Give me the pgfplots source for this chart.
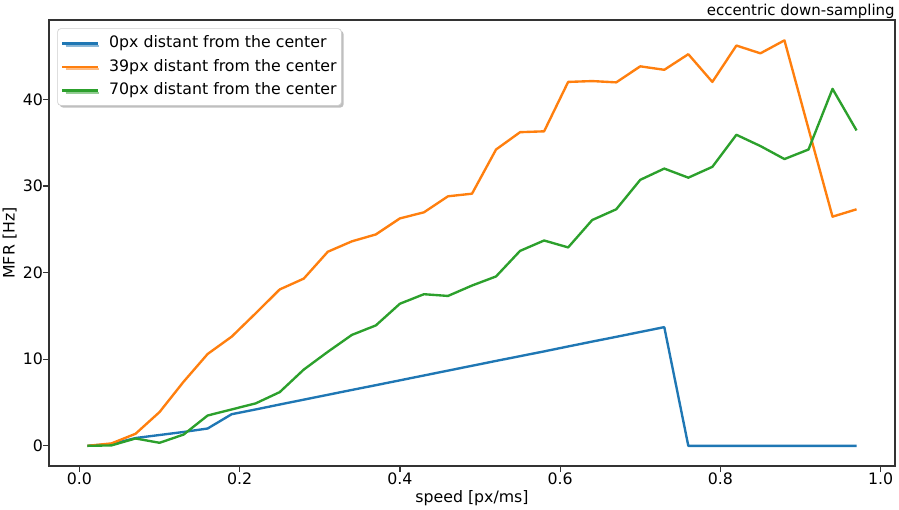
\documentclass[border=0pt]{standalone}
\usepackage{fontspec}
\setmainfont{DejaVu Sans}
\usepackage{pgfplots}
\pgfplotsset{compat=1.18}
\usetikzlibrary{shadows}
\definecolor{tabblue}{HTML}{1F77B4}
\definecolor{taborange}{HTML}{FF7F0E}
\definecolor{tabgreen}{HTML}{2CA02C}

\pgfplotstableread{
x y
0.01 0
0.04 0.2
0.07 0.9
0.10 1.25
0.13 1.6
0.16 2.0
0.19 3.65
0.22 4.2
0.25 4.77
0.28 5.33
0.31 5.89
0.34 6.45
0.37 7.0
0.40 7.56
0.43 8.12
0.46 8.68
0.49 9.24
0.52 9.8
0.55 10.35
0.58 10.9
0.61 11.47
0.64 12.03
0.67 12.58
0.70 13.14
0.73 13.7
0.76 0
0.79 0
0.82 0
0.85 0
0.88 0
0.91 0
0.94 0
0.97 0
}\tblblue

\pgfplotstableread{
x y
0.01 0
0.04 0.28
0.07 1.39
0.10 3.9
0.13 7.4
0.16 10.6
0.19 12.6
0.22 15.3
0.25 18.05
0.28 19.3
0.31 22.4
0.34 23.6
0.37 24.4
0.40 26.25
0.43 26.95
0.46 28.8
0.49 29.1
0.52 34.2
0.55 36.2
0.58 36.3
0.61 42.0
0.64 42.1
0.67 41.95
0.70 43.8
0.73 43.4
0.76 45.2
0.79 42.0
0.82 46.2
0.85 45.3
0.88 46.8
0.91 36.6
0.94 26.45
0.97 27.3
}\tblorange

\pgfplotstableread{
x y
0.01 0
0.04 0.05
0.07 0.85
0.10 0.35
0.13 1.3
0.16 3.5
0.19 4.2
0.22 4.9
0.25 6.2
0.28 8.8
0.31 10.85
0.34 12.8
0.37 13.9
0.40 16.4
0.43 17.5
0.46 17.3
0.49 18.5
0.52 19.55
0.55 22.5
0.58 23.7
0.61 22.9
0.64 26.06
0.67 27.3
0.70 30.7
0.73 32.0
0.76 30.95
0.79 32.2
0.82 35.9
0.85 34.6
0.88 33.1
0.91 34.2
0.94 41.2
0.97 36.4
}\tblgreen

\begin{document}
\begin{tikzpicture}[font=\fontsize{10bp}{12bp}\selectfont]
\useasboundingbox (-31.07bp,-27.27bp) rectangle (538.93bp,295.53bp);
\begin{axis}[
  scale only axis,
  width=536.4bp, height=282.8bp,
  xmin=-0.038, xmax=1.018,
  ymin=-2.34, ymax=49.14,
  axis line style={black!80, line width=0.8bp},
  xtick={0,0.2,0.4,0.6,0.8,1.0},
  ytick={0,10,20,30,40},
  xticklabels={0.0,0.2,0.4,0.6,0.8,1.0},
  tick align=outside,
  xtick pos=bottom, ytick pos=left,
  major tick length=3.6bp,
  tick style={black!80, line width=0.8bp},
  /pgf/number format/assume math mode=true,
  ticklabel style={font=\fontsize{10bp}{12bp}\selectfont},
  xticklabel style={anchor=north, inner sep=0pt, yshift=-0.6bp},
  yticklabel style={anchor=east, inner sep=0pt},
  xlabel={speed [px/ms]},
  ylabel={MFR [Hz]},
  xlabel style={at={(axis description cs:0.5,0)}, anchor=base, yshift=-23.1bp},
  ylabel style={at={(axis description cs:-0.0405,0.5)}, anchor=base},
  legend cell align=left,
  legend style={
    at={(axis description cs:0,1)}, anchor=north west,
    xshift=5.26bp, yshift=-5.26bp,
    draw=black!20, fill=white, rounded corners=2bp,
    drop shadow={shadow xshift=1.4bp, shadow yshift=-1.4bp, fill=black!50, opacity=0.5},
    inner xsep=3bp, inner ysep=4.4bp,
    row sep=4.9bp,
    nodes={inner xsep=0pt, inner ysep=0pt, text height=7.6bp, text depth=2.4bp, anchor=west},
    /tikz/every odd column/.append style={column sep=7.2bp},
    font=\fontsize{10bp}{12bp}\selectfont
  },
  legend image code/.code={\draw[#1, line cap=rect] (0bp,0bp) -- (21bp,0bp);},
  every axis plot/.append style={line width=1.5bp, line join=round},
  clip=false,
]
\addplot[tabblue, mark=none] table[x=x,y=y] {\tblblue};
\addlegendentry{0px distant from the center}
\addplot[taborange, mark=none] table[x=x,y=y] {\tblorange};
\addlegendentry{39px distant from the center}
\addplot[tabgreen, mark=none] table[x=x,y=y] {\tblgreen};
\addlegendentry{70px distant from the center}
\node[anchor=base east, inner sep=0pt, font=\fontsize{9.5bp}{11.4bp}\selectfont] at (rel axis cs:1,1) [yshift=3.2bp] {eccentric down-sampling};
\end{axis}
\end{tikzpicture}
\end{document}
